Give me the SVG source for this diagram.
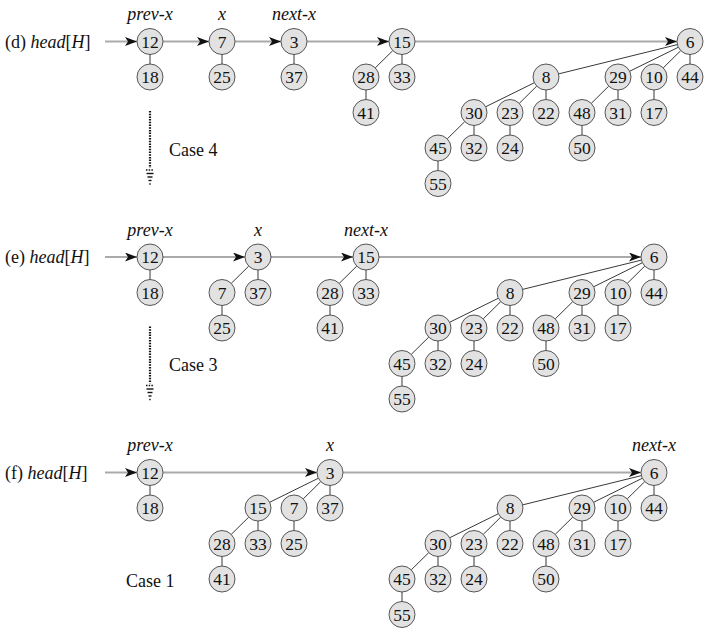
<svg xmlns="http://www.w3.org/2000/svg" width="706" height="635" viewBox="0 0 706 635">
<style>
.n circle{fill:#e2e2e2;stroke:#444;stroke-width:0.9}
.n text{font-family:"Liberation Serif",serif;font-size:17.5px;text-anchor:middle;fill:#111}
.e line{stroke:#222;stroke-width:0.9}
.r line{stroke:#aaa;stroke-width:2;marker-end:url(#ah)}
.lbl{font-family:"Liberation Serif",serif;font-size:18px;font-style:italic;text-anchor:middle;fill:#111}
.hd{font-family:"Liberation Serif",serif;font-size:18px;fill:#111}
.hd .i{font-style:italic}
.case{font-family:"Liberation Serif",serif;font-size:18px;fill:#111}
.dot line{stroke:#111;stroke-width:2.2;stroke-dasharray:1.5 1.2}
.dh line{stroke:#111;stroke-width:1.4}
</style>
<defs>
<marker id="ah" markerUnits="userSpaceOnUse" markerWidth="13" markerHeight="10" refX="12" refY="4.5" orient="auto">
<path d="M0,0 L12,4.5 L0,9 L3,4.5 z" fill="#111"/>
</marker>
</defs>
<rect width="706" height="635" fill="#fff"/>

<!-- labels -->
<g id="labels">
<g>
<text class="hd" x="5" y="47.5">(d)  <tspan class="i">head</tspan>[<tspan class="i">H</tspan>]</text>
<text class="lbl" x="150" y="20">prev-x</text>
<text class="lbl" x="222" y="20">x</text>
<text class="lbl" x="294" y="20">next-x</text>
<text class="case" x="169" y="155.5">Case 4</text>
</g>
<g transform="translate(0,215.5)">
<text class="hd" x="5" y="47.5">(e)  <tspan class="i">head</tspan>[<tspan class="i">H</tspan>]</text>
<text class="lbl" x="150" y="20">prev-x</text>
<text class="lbl" x="258" y="20">x</text>
<text class="lbl" x="366" y="20">next-x</text>
<text class="case" x="169" y="155.5">Case 3</text>
</g>
<g transform="translate(0,431)">
<text class="hd" x="5" y="47.5">(f)  <tspan class="i">head</tspan>[<tspan class="i">H</tspan>]</text>
<text class="lbl" x="150" y="20">prev-x</text>
<text class="lbl" x="330" y="20">x</text>
<text class="lbl" x="654" y="20">next-x</text>
<text class="case" x="126" y="156">Case 1</text>
</g>
</g>

<!-- connectors -->
<g id="connectors">
<g id="dotted">
<g class="dot"><line x1="150" y1="111" x2="150" y2="168"/><line x1="150" y1="326.5" x2="150" y2="383.5"/></g>
<g class="dh">
<line x1="146" y1="170" x2="154" y2="170" stroke-dasharray="1.5 1.2"/>
<line x1="146.5" y1="173.5" x2="153.5" y2="173.5"/>
<line x1="147.5" y1="177" x2="152.5" y2="177"/>
<line x1="148.5" y1="180.5" x2="151.5" y2="180.5"/>
<line x1="149.3" y1="184" x2="150.7" y2="184"/>
</g>
<g class="dh" transform="translate(0,215.5)">
<line x1="146" y1="170" x2="154" y2="170" stroke-dasharray="1.5 1.2"/>
<line x1="146.5" y1="173.5" x2="153.5" y2="173.5"/>
<line x1="147.5" y1="177" x2="152.5" y2="177"/>
<line x1="148.5" y1="180.5" x2="151.5" y2="180.5"/>
<line x1="149.3" y1="184" x2="150.7" y2="184"/>
</g>
</g>
<!-- (d) -->
<g>
<g class="r">
<line x1="105" y1="41.5" x2="137" y2="41.5"/>
<line x1="163" y1="41.5" x2="209" y2="41.5"/>
<line x1="235" y1="41.5" x2="281" y2="41.5"/>
<line x1="307" y1="41.5" x2="389" y2="41.5"/>
<line x1="415" y1="41.5" x2="677" y2="41.5"/>
</g>
<g class="e">
<line x1="150" y1="54.5" x2="150" y2="64"/>
<line x1="222" y1="54.5" x2="222" y2="64"/>
<line x1="294" y1="54.5" x2="294" y2="64"/>
<line x1="392.74" y1="50.63" x2="375.26" y2="67.87"/>
<line x1="402" y1="54.5" x2="402" y2="64"/>
<line x1="366" y1="90" x2="366" y2="99.5"/>
</g>
<g class="e" transform="translate(36,0)">
<line x1="641.38" y1="44.61" x2="522.62" y2="73.89"/>
<line x1="642.34" y1="47.25" x2="593.66" y2="71.25"/>
<line x1="644.74" y1="50.63" x2="627.26" y2="67.87"/>
<line x1="654" y1="54.5" x2="654" y2="64"/>
<line x1="498.34" y1="82.75" x2="449.66" y2="106.75"/>
<line x1="500.74" y1="86.13" x2="483.26" y2="103.37"/>
<line x1="510" y1="90" x2="510" y2="99.5"/>
<line x1="572.74" y1="86.13" x2="555.26" y2="103.37"/>
<line x1="582" y1="90" x2="582" y2="99.5"/>
<line x1="618" y1="90" x2="618" y2="99.5"/>
<line x1="428.74" y1="121.63" x2="411.26" y2="138.87"/>
<line x1="438" y1="125.5" x2="438" y2="135"/>
<line x1="474" y1="125.5" x2="474" y2="135"/>
<line x1="546" y1="125.5" x2="546" y2="135"/>
<line x1="402" y1="161" x2="402" y2="170.5"/>
</g>
</g>
<!-- (e) -->
<g transform="translate(0,215.5)">
<g class="r">
<line x1="105" y1="41.5" x2="137" y2="41.5"/>
<line x1="163" y1="41.5" x2="245" y2="41.5"/>
<line x1="271" y1="41.5" x2="353" y2="41.5"/>
<line x1="379" y1="41.5" x2="641" y2="41.5"/>
</g>
<g class="e">
<line x1="150" y1="54.5" x2="150" y2="64"/>
<line x1="248.74" y1="50.63" x2="231.26" y2="67.87"/>
<line x1="258" y1="54.5" x2="258" y2="64"/>
<line x1="222" y1="90" x2="222" y2="99.5"/>
<line x1="356.74" y1="50.63" x2="339.26" y2="67.87"/>
<line x1="366" y1="54.5" x2="366" y2="64"/>
<line x1="330" y1="90" x2="330" y2="99.5"/>
<line x1="641.38" y1="44.61" x2="522.62" y2="73.89"/>
<line x1="642.34" y1="47.25" x2="593.66" y2="71.25"/>
<line x1="644.74" y1="50.63" x2="627.26" y2="67.87"/>
<line x1="654" y1="54.5" x2="654" y2="64"/>
<line x1="498.34" y1="82.75" x2="449.66" y2="106.75"/>
<line x1="500.74" y1="86.13" x2="483.26" y2="103.37"/>
<line x1="510" y1="90" x2="510" y2="99.5"/>
<line x1="572.74" y1="86.13" x2="555.26" y2="103.37"/>
<line x1="582" y1="90" x2="582" y2="99.5"/>
<line x1="618" y1="90" x2="618" y2="99.5"/>
<line x1="428.74" y1="121.63" x2="411.26" y2="138.87"/>
<line x1="438" y1="125.5" x2="438" y2="135"/>
<line x1="474" y1="125.5" x2="474" y2="135"/>
<line x1="546" y1="125.5" x2="546" y2="135"/>
<line x1="402" y1="161" x2="402" y2="170.5"/>
</g>
</g>
<!-- (f) -->
<g transform="translate(0,431)">
<g class="r">
<line x1="105" y1="41.5" x2="137" y2="41.5"/>
<line x1="163" y1="41.5" x2="317" y2="41.5"/>
<line x1="343" y1="41.5" x2="641" y2="41.5"/>
</g>
<g class="e">
<line x1="150" y1="54.5" x2="150" y2="64"/>
<line x1="318.34" y1="47.25" x2="269.66" y2="71.25"/>
<line x1="320.74" y1="50.63" x2="303.26" y2="67.87"/>
<line x1="330" y1="54.5" x2="330" y2="64"/>
<line x1="248.74" y1="86.13" x2="231.26" y2="103.37"/>
<line x1="258" y1="90" x2="258" y2="99.5"/>
<line x1="294" y1="90" x2="294" y2="99.5"/>
<line x1="222" y1="125.5" x2="222" y2="135"/>
<line x1="641.38" y1="44.61" x2="522.62" y2="73.89"/>
<line x1="642.34" y1="47.25" x2="593.66" y2="71.25"/>
<line x1="644.74" y1="50.63" x2="627.26" y2="67.87"/>
<line x1="654" y1="54.5" x2="654" y2="64"/>
<line x1="498.34" y1="82.75" x2="449.66" y2="106.75"/>
<line x1="500.74" y1="86.13" x2="483.26" y2="103.37"/>
<line x1="510" y1="90" x2="510" y2="99.5"/>
<line x1="572.74" y1="86.13" x2="555.26" y2="103.37"/>
<line x1="582" y1="90" x2="582" y2="99.5"/>
<line x1="618" y1="90" x2="618" y2="99.5"/>
<line x1="428.74" y1="121.63" x2="411.26" y2="138.87"/>
<line x1="438" y1="125.5" x2="438" y2="135"/>
<line x1="474" y1="125.5" x2="474" y2="135"/>
<line x1="546" y1="125.5" x2="546" y2="135"/>
<line x1="402" y1="161" x2="402" y2="170.5"/>
</g>
</g>
</g>

<!-- nodes -->
<g id="nodes">
<!-- (d) -->
<g id="sec-d">
<g id="d12" class="n"><circle cx="150" cy="41.5" r="13"/><text x="150" y="47.5">12</text></g>
<g id="d18" class="n"><circle cx="150" cy="77" r="13"/><text x="150" y="83">18</text></g>
<g id="d7" class="n"><circle cx="222" cy="41.5" r="13"/><text x="222" y="47.5">7</text></g>
<g id="d25" class="n"><circle cx="222" cy="77" r="13"/><text x="222" y="83">25</text></g>
<g id="d3" class="n"><circle cx="294" cy="41.5" r="13"/><text x="294" y="47.5">3</text></g>
<g id="d37" class="n"><circle cx="294" cy="77" r="13"/><text x="294" y="83">37</text></g>
<g id="d15" class="n"><circle cx="402" cy="41.5" r="13"/><text x="402" y="47.5">15</text></g>
<g id="d28" class="n"><circle cx="366" cy="77" r="13"/><text x="366" y="83">28</text></g>
<g id="d33" class="n"><circle cx="402" cy="77" r="13"/><text x="402" y="83">33</text></g>
<g id="d41" class="n"><circle cx="366" cy="112.5" r="13"/><text x="366" y="118.5">41</text></g>
<g transform="translate(36,0)">
<g id="d6" class="n"><circle cx="654" cy="41.5" r="13"/><text x="654" y="47.5">6</text></g>
<g id="d8" class="n"><circle cx="510" cy="77" r="13"/><text x="510" y="83">8</text></g>
<g id="d29" class="n"><circle cx="582" cy="77" r="13"/><text x="582" y="83">29</text></g>
<g id="d10" class="n"><circle cx="618" cy="77" r="13"/><text x="618" y="83">10</text></g>
<g id="d44" class="n"><circle cx="654" cy="77" r="13"/><text x="654" y="83">44</text></g>
<g id="d30" class="n"><circle cx="438" cy="112.5" r="13"/><text x="438" y="118.5">30</text></g>
<g id="d23" class="n"><circle cx="474" cy="112.5" r="13"/><text x="474" y="118.5">23</text></g>
<g id="d22" class="n"><circle cx="510" cy="112.5" r="13"/><text x="510" y="118.5">22</text></g>
<g id="d48" class="n"><circle cx="546" cy="112.5" r="13"/><text x="546" y="118.5">48</text></g>
<g id="d31" class="n"><circle cx="582" cy="112.5" r="13"/><text x="582" y="118.5">31</text></g>
<g id="d17" class="n"><circle cx="618" cy="112.5" r="13"/><text x="618" y="118.5">17</text></g>
<g id="d45" class="n"><circle cx="402" cy="148" r="13"/><text x="402" y="154">45</text></g>
<g id="d32" class="n"><circle cx="438" cy="148" r="13"/><text x="438" y="154">32</text></g>
<g id="d24" class="n"><circle cx="474" cy="148" r="13"/><text x="474" y="154">24</text></g>
<g id="d50" class="n"><circle cx="546" cy="148" r="13"/><text x="546" y="154">50</text></g>
<g id="d55" class="n"><circle cx="402" cy="183.5" r="13"/><text x="402" y="189.5">55</text></g>
</g>
</g>
<!-- (e) -->
<g id="sec-e" transform="translate(0,215.5)">
<g id="e12" class="n"><circle cx="150" cy="41.5" r="13"/><text x="150" y="47.5">12</text></g>
<g id="e18" class="n"><circle cx="150" cy="77" r="13"/><text x="150" y="83">18</text></g>
<g id="e3" class="n"><circle cx="258" cy="41.5" r="13"/><text x="258" y="47.5">3</text></g>
<g id="e7" class="n"><circle cx="222" cy="77" r="13"/><text x="222" y="83">7</text></g>
<g id="e37" class="n"><circle cx="258" cy="77" r="13"/><text x="258" y="83">37</text></g>
<g id="e25" class="n"><circle cx="222" cy="112.5" r="13"/><text x="222" y="118.5">25</text></g>
<g id="e15" class="n"><circle cx="366" cy="41.5" r="13"/><text x="366" y="47.5">15</text></g>
<g id="e28" class="n"><circle cx="330" cy="77" r="13"/><text x="330" y="83">28</text></g>
<g id="e33" class="n"><circle cx="366" cy="77" r="13"/><text x="366" y="83">33</text></g>
<g id="e41" class="n"><circle cx="330" cy="112.5" r="13"/><text x="330" y="118.5">41</text></g>
<g id="e6" class="n"><circle cx="654" cy="41.5" r="13"/><text x="654" y="47.5">6</text></g>
<g id="e8" class="n"><circle cx="510" cy="77" r="13"/><text x="510" y="83">8</text></g>
<g id="e29" class="n"><circle cx="582" cy="77" r="13"/><text x="582" y="83">29</text></g>
<g id="e10" class="n"><circle cx="618" cy="77" r="13"/><text x="618" y="83">10</text></g>
<g id="e44" class="n"><circle cx="654" cy="77" r="13"/><text x="654" y="83">44</text></g>
<g id="e30" class="n"><circle cx="438" cy="112.5" r="13"/><text x="438" y="118.5">30</text></g>
<g id="e23" class="n"><circle cx="474" cy="112.5" r="13"/><text x="474" y="118.5">23</text></g>
<g id="e22" class="n"><circle cx="510" cy="112.5" r="13"/><text x="510" y="118.5">22</text></g>
<g id="e48" class="n"><circle cx="546" cy="112.5" r="13"/><text x="546" y="118.5">48</text></g>
<g id="e31" class="n"><circle cx="582" cy="112.5" r="13"/><text x="582" y="118.5">31</text></g>
<g id="e17" class="n"><circle cx="618" cy="112.5" r="13"/><text x="618" y="118.5">17</text></g>
<g id="e45" class="n"><circle cx="402" cy="148" r="13"/><text x="402" y="154">45</text></g>
<g id="e32" class="n"><circle cx="438" cy="148" r="13"/><text x="438" y="154">32</text></g>
<g id="e24" class="n"><circle cx="474" cy="148" r="13"/><text x="474" y="154">24</text></g>
<g id="e50" class="n"><circle cx="546" cy="148" r="13"/><text x="546" y="154">50</text></g>
<g id="e55" class="n"><circle cx="402" cy="183.5" r="13"/><text x="402" y="189.5">55</text></g>
</g>
<!-- (f) -->
<g id="sec-f" transform="translate(0,431)">
<g id="f12" class="n"><circle cx="150" cy="41.5" r="13"/><text x="150" y="47.5">12</text></g>
<g id="f18" class="n"><circle cx="150" cy="77" r="13"/><text x="150" y="83">18</text></g>
<g id="f3" class="n"><circle cx="330" cy="41.5" r="13"/><text x="330" y="47.5">3</text></g>
<g id="f15" class="n"><circle cx="258" cy="77" r="13"/><text x="258" y="83">15</text></g>
<g id="f7" class="n"><circle cx="294" cy="77" r="13"/><text x="294" y="83">7</text></g>
<g id="f37" class="n"><circle cx="330" cy="77" r="13"/><text x="330" y="83">37</text></g>
<g id="f28" class="n"><circle cx="222" cy="112.5" r="13"/><text x="222" y="118.5">28</text></g>
<g id="f33" class="n"><circle cx="258" cy="112.5" r="13"/><text x="258" y="118.5">33</text></g>
<g id="f25" class="n"><circle cx="294" cy="112.5" r="13"/><text x="294" y="118.5">25</text></g>
<g id="f41" class="n"><circle cx="222" cy="148" r="13"/><text x="222" y="154">41</text></g>
<g id="f6" class="n"><circle cx="654" cy="41.5" r="13"/><text x="654" y="47.5">6</text></g>
<g id="f8" class="n"><circle cx="510" cy="77" r="13"/><text x="510" y="83">8</text></g>
<g id="f29" class="n"><circle cx="582" cy="77" r="13"/><text x="582" y="83">29</text></g>
<g id="f10" class="n"><circle cx="618" cy="77" r="13"/><text x="618" y="83">10</text></g>
<g id="f44" class="n"><circle cx="654" cy="77" r="13"/><text x="654" y="83">44</text></g>
<g id="f30" class="n"><circle cx="438" cy="112.5" r="13"/><text x="438" y="118.5">30</text></g>
<g id="f23" class="n"><circle cx="474" cy="112.5" r="13"/><text x="474" y="118.5">23</text></g>
<g id="f22" class="n"><circle cx="510" cy="112.5" r="13"/><text x="510" y="118.5">22</text></g>
<g id="f48" class="n"><circle cx="546" cy="112.5" r="13"/><text x="546" y="118.5">48</text></g>
<g id="f31" class="n"><circle cx="582" cy="112.5" r="13"/><text x="582" y="118.5">31</text></g>
<g id="f17" class="n"><circle cx="618" cy="112.5" r="13"/><text x="618" y="118.5">17</text></g>
<g id="f45" class="n"><circle cx="402" cy="148" r="13"/><text x="402" y="154">45</text></g>
<g id="f32" class="n"><circle cx="438" cy="148" r="13"/><text x="438" y="154">32</text></g>
<g id="f24" class="n"><circle cx="474" cy="148" r="13"/><text x="474" y="154">24</text></g>
<g id="f50" class="n"><circle cx="546" cy="148" r="13"/><text x="546" y="154">50</text></g>
<g id="f55" class="n"><circle cx="402" cy="183.5" r="13"/><text x="402" y="189.5">55</text></g>
</g>
</g>
</svg>
